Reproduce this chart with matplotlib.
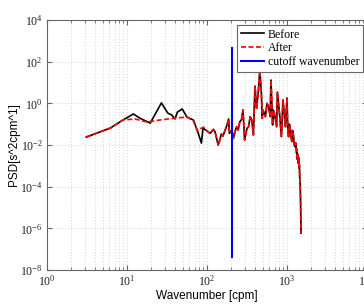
import numpy as np
import matplotlib.pyplot as plt
from matplotlib.ticker import LogLocator, FixedLocator, FuncFormatter, NullFormatter

# exponents (log10): wavenumber [cpm] and PSD
before_logk = [0.49, 0.79, 0.95, 1.08, 1.16, 1.29, 1.43, 1.51, 1.56, 1.60, 1.63,
               1.69, 1.75, 1.83, 1.89, 1.93, 1.95]
before_logp = [-1.62, -1.19, -0.80, -0.51, -0.71, -0.95, 0.02, -0.47, -0.56, -0.75, -0.42,
               -0.27, -0.66, -0.80, -1.43, -1.91, -1.19]

after_logk = [0.49, 0.79, 0.95, 1.10, 1.25, 1.41, 1.60, 1.75, 1.83, 1.88, 1.91, 1.96]
after_logp = [-1.62, -1.19, -0.80, -0.75, -0.90, -0.80, -0.71, -0.66, -0.85, -1.33, -1.23, -1.14]

# part where both spectra are the same (above ~100 cpm)
shared_logk = [2.00, 2.04, 2.08, 2.10, 2.14, 2.16, 2.18, 2.20, 2.25, 2.27, 2.28, 2.31,
               2.33, 2.35, 2.37, 2.39, 2.41, 2.43, 2.45, 2.47, 2.50, 2.52, 2.54, 2.56,
               2.58, 2.60, 2.62, 2.64, 2.65, 2.66, 2.68, 2.69, 2.70, 2.73, 2.75, 2.77,
               2.79, 2.80, 2.82, 2.83, 2.85, 2.87, 2.88, 2.91, 2.93, 2.95, 2.98, 3.00,
               3.01, 3.02, 3.03, 3.04, 3.05, 3.06, 3.07, 3.08, 3.09, 3.10, 3.11, 3.12,
               3.125, 3.13, 3.135, 3.14, 3.145, 3.15, 3.155, 3.16, 3.165, 3.17, 3.175]
shared_logp = [-1.33, -1.44, -1.25, -1.36, -2.00, -1.76, -1.47, -1.57, -1.04, -0.75, -1.44, -1.28,
               -1.68, -1.36, -1.12, -1.28, -0.88, -0.80, -0.32, -1.76, -1.20, -1.12, -0.64, -0.80,
               -1.52, 0.83, -0.24, 0.48, 1.04, 1.60, 0.48, -0.72, -0.32, -0.64, 0.00, -0.16,
               -0.64, 1.12, -1.04, -0.32, -0.64, -1.12, 0.54, -0.64, -1.60, 0.16, -1.12, 0.26,
               -1.30, -1.60, -1.00, -1.18, -1.60, -1.84, -1.30, -1.52, -2.00, -2.08, -1.90, -2.40,
               -2.20, -2.70, -2.45, -2.88, -2.60, -3.10, -2.95, -3.68, -3.90, -4.79, -6.23]

cutoff = 205
cutoff_range = [4.2e-8, 450]

k_before = 10 ** np.array(before_logk + shared_logk)
p_before = 10 ** np.array(before_logp + shared_logp)
k_after = 10 ** np.array(after_logk + shared_logk)
p_after = 10 ** np.array(after_logp + shared_logp)

serif = 'Liberation Serif'
sans = 'Liberation Sans'

fig = plt.figure(figsize=(3.64, 3.05), dpi=100)
ax = fig.add_axes([47 / 364, 35 / 305, 320 / 364, 250 / 305])

ax.plot(k_before, p_before, color='black', lw=1.2, label='Before')
ax.plot(k_after, p_after, color='red', lw=1.2, ls=(0, (3, 1.5)), label='After')
ax.plot([cutoff, cutoff], cutoff_range, color='blue', lw=1.5, label='cutoff wavenumber')

ax.set_xscale('log')
ax.set_yscale('log')
ax.set_xlim(1, 1e4)
ax.set_ylim(1e-8, 1e4)

ax.xaxis.set_major_locator(LogLocator(base=10, numticks=10))
ax.xaxis.set_minor_locator(LogLocator(base=10, subs=np.arange(2, 10), numticks=10))
ax.yaxis.set_major_locator(FixedLocator([1e-8, 1e-6, 1e-4, 1e-2, 1e0, 1e2, 1e4]))
ax.yaxis.set_minor_locator(FixedLocator([]))
fmt = FuncFormatter(lambda v, pos: r'$\mathregular{10^{%d}}$' % round(np.log10(v)))
ax.xaxis.set_major_formatter(fmt)
ax.yaxis.set_major_formatter(fmt)
ax.xaxis.set_minor_formatter(NullFormatter())
for lab in ax.get_xticklabels() + ax.get_yticklabels():
    lab.set_fontfamily(serif)
    lab.set_fontsize(8.5)
    lab.set_color('#222222')

ax.tick_params(which='both', direction='in', top=True, right=True, color='#666666')
ax.tick_params(which='major', length=3.5, pad=3)
ax.tick_params(which='minor', length=2)
ax.grid(which='major', ls=(0, (1, 2)), color='#d4d4d4', lw=0.7)
ax.grid(which='minor', axis='x', ls=(0, (1, 2)), color='#d4d4d4', lw=0.7)
for s in ax.spines.values():
    s.set_color('#666666')
    s.set_linewidth(0.8)

ax.set_xlabel('Wavenumber [cpm]', fontfamily=sans, fontsize=8.5, labelpad=1)
ax.set_ylabel('PSD[s^2cpm^1]', fontfamily=sans, fontsize=8.5, labelpad=0)

leg = ax.legend(loc='upper left', bbox_to_anchor=(237 / 364, 1 - 25 / 305),
                bbox_transform=fig.transFigure, fancybox=False, framealpha=1,
                edgecolor='#666666', prop={'family': serif, 'size': 8.5},
                handlelength=2.0, handletextpad=0.3, borderpad=0.3, labelspacing=0.15,
                borderaxespad=0)
leg.get_frame().set_linewidth(0.8)

plt.savefig('out.png', dpi=100)
